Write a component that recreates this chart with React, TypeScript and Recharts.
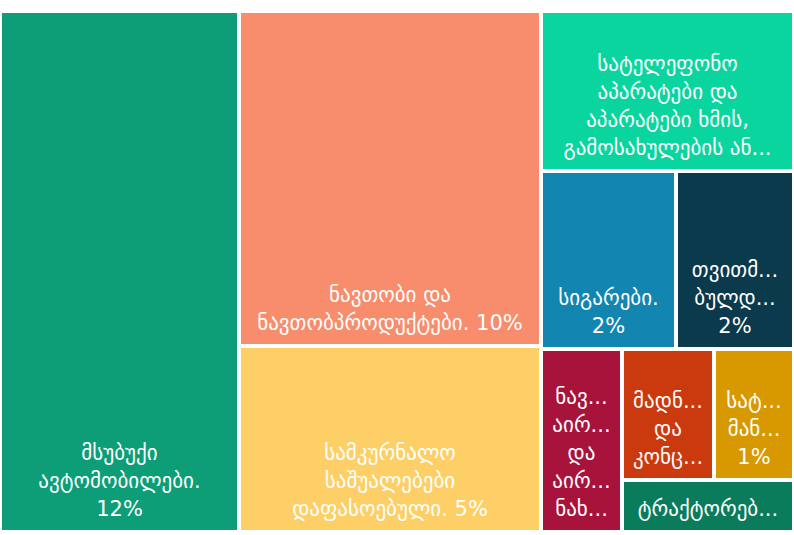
import { Treemap } from "recharts";

// share of total imports, %
const CATEGORIES = [
  "მსუბუქი ავტომობილები",
  "ნავთობი და ნავთობპროდუქტები",
  "სამკურნალო საშუალებები დაფასოებული",
  "სატელეფონო აპარატები და აპარატები ხმის, გამოსახულების ან მონაცემების მისაღებად",
  "სიგარები",
  "თვითმავლები ბულდოზერები",
  "ნავთობის აირები და აირისებრი ნახშირწყალბადები",
  "მადნები და კონცენტრატები",
  "სატვირთო მანქანები",
  "ტრაქტორები",
];
const VALUES = [12.2, 9.9, 5.48, 3.95, 2.35, 2.06, 1.45, 1.18, 1.03, 0.86];

// label lines as they fit inside each cell
const LABEL_LINES = [
  ["მსუბუქი", "ავტომობილები.", "12%"],
  ["ნავთობი და", "ნავთობპროდუქტები. 10%"],
  ["სამკურნალო", "საშუალებები", "დაფასოებული. 5%"],
  ["სატელეფონო", "აპარატები და", "აპარატები ხმის,", "გამოსახულების ან..."],
  ["სიგარები.", "2%"],
  ["თვითმ...", "ბულდ...", "2%"],
  ["ნავ...", "აირ...", "და", "აირ...", "ნახ..."],
  ["მადნ...", "და", "კონც..."],
  ["სატ...", "მან...", "1%"],
  ["ტრაქტორებ..."],
];

const COLORS = [
  "#0d9e78",
  "#f78d6c",
  "#fdcf66",
  "#0bd59f",
  "#1286b0",
  "#0a3a4b",
  "#a7133a",
  "#cb390e",
  "#d89900",
  "#0a7c5c",
];

const data = CATEGORIES.map((name, i) => ({ name, value: VALUES[i] }));

const LINE_HEIGHT = 28;

function Cell(props: any) {
  const { x, y, width, height, index, depth } = props;
  if (depth !== 1) return null;
  const lines = LABEL_LINES[index] || [];
  const last = y + height - 16;
  return (
    <g>
      <rect x={x} y={y} width={width} height={height} fill={COLORS[index]} stroke="#fff" strokeWidth={4} />
      {lines.map((line, i) => (
        <text
          key={i}
          x={x + width / 2}
          y={last - (lines.length - 1 - i) * LINE_HEIGHT}
          textAnchor="middle"
          fill="#fff"
          fontSize={21}
          fontFamily="'DejaVu Sans', sans-serif"
        >
          {line}
        </text>
      ))}
    </g>
  );
}

export default function App() {
  return (
    <div style={{ position: "absolute", left: 0, top: 0, width: 794, height: 535, background: "#fff", overflow: "hidden" }}>
      <div style={{ paddingTop: 11 }}>
        <Treemap
          width={794}
          height={521}
          data={data}
          dataKey="value"
          nameKey="name"
          aspectRatio={0.86}
          isAnimationActive={false}
          content={<Cell />}
        />
      </div>
    </div>
  );
}
